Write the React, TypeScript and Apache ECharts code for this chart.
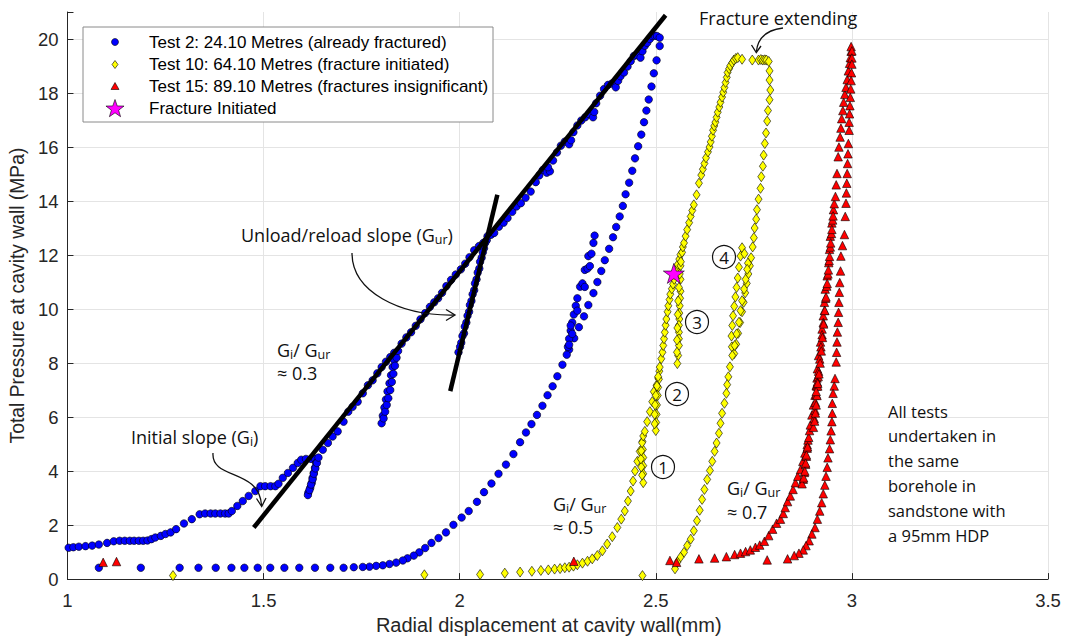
import React, { useEffect, useRef } from "react";
import * as echarts from "echarts";

// ---------- data ----------
const test2: number[][] = [
  [1.003, 1.16], [1.015, 1.18], [1.029, 1.2], [1.046, 1.22], [1.063, 1.24], [1.08, 1.28], [1.101, 1.34], [1.118, 1.4],
  [1.133, 1.42], [1.146, 1.42], [1.159, 1.42], [1.17, 1.42], [1.182, 1.42], [1.193, 1.42], [1.204, 1.43], [1.214, 1.48],
  [1.224, 1.54], [1.238, 1.6], [1.25, 1.67], [1.263, 1.73], [1.277, 1.85], [1.297, 2.06], [1.317, 2.22], [1.337, 2.4],
  [1.351, 2.43], [1.365, 2.43], [1.377, 2.43], [1.39, 2.43], [1.402, 2.43], [1.411, 2.43], [1.419, 2.52], [1.433, 2.71],
  [1.447, 2.89], [1.462, 3.08], [1.479, 3.26], [1.492, 3.44], [1.504, 3.44], [1.518, 3.44], [1.53, 3.44], [1.538, 3.53],
  [1.549, 3.75], [1.562, 3.93], [1.575, 4.12], [1.587, 4.3], [1.596, 4.42], [1.608, 4.45], [1.621, 4.45], [1.631, 4.46],
  [1.634, 4.3], [1.631, 4.12], [1.628, 3.93], [1.625, 3.75], [1.623, 3.57], [1.619, 3.38], [1.614, 3.2], [1.613, 3.11],
  [1.617, 3.3], [1.621, 3.5], [1.625, 3.7], [1.628, 3.9], [1.632, 4.1], [1.636, 4.3], [1.64, 4.5],
  [1.651, 4.79], [1.664, 5.04], [1.676, 5.28], [1.689, 5.47], [1.704, 5.83], [1.716, 6.2], [1.727, 6.38], [1.74, 6.57],
  [1.753, 6.88], [1.766, 7.18], [1.778, 7.36], [1.79, 7.62], [1.801, 7.85], [1.812, 8.05], [1.823, 8.22], [1.833, 8.38],
  [1.833, 8.1], [1.829, 7.85], [1.825, 7.55], [1.821, 7.25], [1.816, 6.95], [1.812, 6.65], [1.808, 6.35], [1.804, 6.05],
  [1.801, 5.77], [1.806, 5.95], [1.81, 6.2], [1.814, 6.45], [1.818, 6.7], [1.823, 7.0], [1.827, 7.3], [1.831, 7.6],
  [1.835, 7.9], [1.839, 8.2], [1.843, 8.45],
  [1.852, 8.72], [1.864, 8.95], [1.876, 9.14], [1.888, 9.38], [1.9, 9.62], [1.912, 9.85], [1.924, 10.08], [1.935, 10.25],
  [1.945, 10.4], [1.955, 10.6], [1.966, 10.85], [1.978, 11.08], [1.99, 11.28], [2.003, 11.47], [2.014, 11.68], [2.025, 11.92],
  [2.037, 12.18], [2.049, 12.33], [2.06, 12.45], [2.069, 12.55],
  [2.062, 12.25], [2.056, 11.9], [2.05, 11.5], [2.043, 11.1], [2.037, 10.7], [2.03, 10.3], [2.024, 9.9], [2.017, 9.5],
  [2.011, 9.1], [2.004, 8.75], [1.997, 8.4], [2.001, 8.6], [2.007, 9.0], [2.013, 9.35], [2.02, 9.75], [2.026, 10.15],
  [2.033, 10.55], [2.039, 10.95], [2.046, 11.35], [2.052, 11.75], [2.059, 12.1], [2.065, 12.45], [2.071, 12.7],
  [2.08, 12.75], [2.088, 12.82], [2.1, 13.05], [2.112, 13.2], [2.122, 13.37], [2.134, 13.6], [2.145, 13.8], [2.156, 13.92],
  [2.168, 14.12], [2.181, 14.35], [2.194, 14.7], [2.203, 14.95], [2.212, 15.15], [2.222, 15.05], [2.23, 15.1], [2.225, 15.25],
  [2.238, 15.5], [2.248, 15.8], [2.258, 16.05], [2.268, 16.2], [2.279, 16.1], [2.284, 16.25], [2.29, 16.55], [2.3, 16.8],
  [2.31, 16.98], [2.32, 17.1], [2.33, 17.22], [2.34, 17.1], [2.343, 17.3], [2.348, 17.62], [2.358, 17.9], [2.368, 18.15],
  [2.378, 18.3], [2.388, 18.35], [2.398, 18.21], [2.404, 18.45], [2.41, 18.62], [2.419, 18.76], [2.428, 18.98], [2.436, 19.18],
  [2.444, 19.37], [2.452, 19.4], [2.461, 19.31], [2.466, 19.55], [2.472, 19.75], [2.478, 19.86], [2.485, 20.0], [2.491, 20.11],
  [2.497, 20.12], [2.503, 20.11], [2.51, 20.05],
  [2.51, 19.74], [2.502, 19.21], [2.495, 18.73], [2.489, 18.24], [2.482, 17.76], [2.476, 17.35], [2.47, 16.92], [2.463, 16.46],
  [2.455, 16.03], [2.447, 15.58], [2.44, 15.12], [2.432, 14.68], [2.423, 14.25], [2.416, 13.82], [2.408, 13.43], [2.399, 13.04],
  [2.391, 12.66], [2.381, 12.23], [2.37, 11.81], [2.361, 11.41], [2.351, 11.0], [2.341, 10.59], [2.328, 10.15], [2.317, 9.73],
  [2.304, 9.33], [2.292, 8.92], [2.279, 8.5],
  [2.273, 8.31], [2.276, 8.6], [2.279, 8.9], [2.283, 9.2], [2.287, 9.5], [2.291, 9.8], [2.296, 10.12], [2.3, 10.4],
  [2.307, 10.83], [2.313, 10.95], [2.319, 11.45], [2.326, 11.5], [2.328, 11.96], [2.336, 12.05], [2.341, 12.45], [2.344, 12.72],
  [2.283, 9.39], [2.287, 9.08], [2.279, 8.68], [2.3, 9.94], [2.319, 10.82], [2.332, 11.59],
  [2.262, 7.94], [2.249, 7.51], [2.237, 7.14], [2.224, 6.81], [2.211, 6.42], [2.197, 6.08], [2.183, 5.74], [2.169, 5.43],
  [2.154, 5.07], [2.137, 4.63], [2.118, 4.24], [2.099, 3.9], [2.081, 3.54], [2.062, 3.22], [2.044, 2.86], [2.023, 2.52],
  [2.005, 2.28], [1.984, 2.01], [1.965, 1.73], [1.946, 1.52], [1.928, 1.34], [1.912, 1.15], [1.897, 0.99], [1.883, 0.87],
  [1.867, 0.77], [1.855, 0.69], [1.838, 0.61], [1.821, 0.56], [1.804, 0.51], [1.787, 0.49], [1.77, 0.46], [1.753, 0.45],
  [1.73, 0.44], [1.704, 0.42], [1.67, 0.42], [1.631, 0.42], [1.591, 0.42], [1.553, 0.42], [1.517, 0.42], [1.485, 0.42],
  [1.451, 0.42], [1.418, 0.42], [1.378, 0.42], [1.334, 0.42], [1.286, 0.42], [1.187, 0.42], [1.08, 0.42],
];

const test10: number[][] = [
  [1.269, 0.13], [1.91, 0.16], [2.052, 0.17], [2.115, 0.22], [2.154, 0.26], [2.184, 0.29], [2.207, 0.32], [2.226, 0.34],
  [2.242, 0.37], [2.256, 0.39], [2.268, 0.42], [2.279, 0.44], [2.29, 0.48], [2.3, 0.53], [2.313, 0.59], [2.326, 0.66],
  [2.338, 0.75], [2.351, 0.87], [2.364, 1.05], [2.376, 1.3], [2.389, 1.57], [2.402, 1.91], [2.412, 2.22], [2.421, 2.52],
  [2.429, 2.89], [2.436, 3.26], [2.442, 3.63], [2.447, 4.0], [2.453, 4.36], [2.459, 4.73], [2.466, 5.1],
  [2.467, 4.8], [2.468, 4.5], [2.468, 4.2], [2.468, 3.9], [2.468, 3.57], [2.465, 3.85], [2.463, 4.15], [2.462, 4.45],
  [2.463, 4.75], [2.465, 5.05], [2.468, 5.3],
  [2.472, 5.47], [2.478, 5.83], [2.485, 6.2], [2.491, 6.57], [2.495, 6.94], [2.502, 7.18], [2.506, 7.45], [2.509, 7.7],
  [2.508, 7.4], [2.506, 7.1], [2.505, 6.8], [2.503, 6.45], [2.502, 6.1], [2.501, 5.8], [2.5, 5.5], [2.497, 5.75],
  [2.497, 6.1], [2.498, 6.45], [2.5, 6.8], [2.503, 7.15], [2.506, 7.5], [2.51, 7.85],
  [2.514, 8.16], [2.517, 8.4], [2.519, 8.65], [2.521, 8.9], [2.523, 9.14], [2.525, 9.4], [2.527, 9.63], [2.53, 9.9],
  [2.532, 10.12], [2.535, 10.35], [2.537, 10.55], [2.541, 10.75], [2.544, 10.92], [2.547, 11.1], [2.55, 11.29], [2.553, 11.45],
  [2.556, 11.65], [2.56, 11.85], [2.563, 12.02],
  [2.563, 11.6], [2.563, 11.1], [2.563, 10.66], [2.562, 10.4], [2.561, 10.12], [2.56, 9.85], [2.56, 9.63], [2.559, 9.4],
  [2.559, 9.14], [2.559, 8.9], [2.559, 8.65], [2.557, 8.28], [2.555, 7.98], [2.554, 8.4], [2.554, 8.85], [2.555, 9.3],
  [2.556, 9.8], [2.557, 10.3], [2.559, 10.8], [2.561, 11.3], [2.564, 11.75], [2.567, 12.1],
  [2.569, 12.3], [2.572, 12.45], [2.576, 12.7], [2.58, 12.94], [2.585, 13.2], [2.589, 13.43], [2.593, 13.65], [2.597, 13.86],
  [2.604, 14.23], [2.61, 14.66], [2.616, 14.96], [2.62, 15.18], [2.624, 15.39], [2.628, 15.6], [2.633, 15.82], [2.637, 16.0],
  [2.64, 16.19], [2.643, 16.4], [2.646, 16.62], [2.649, 16.78], [2.652, 16.92], [2.655, 17.1], [2.658, 17.29], [2.662, 17.48],
  [2.665, 17.66], [2.669, 17.85], [2.672, 18.03], [2.675, 18.2], [2.678, 18.39], [2.681, 18.58], [2.683, 18.76], [2.687, 18.9],
  [2.69, 19.01], [2.695, 19.12], [2.699, 19.22], [2.704, 19.28], [2.709, 19.31], [2.72, 19.25], [2.746, 19.22], [2.762, 19.22],
  [2.768, 19.24], [2.773, 19.22], [2.778, 19.23], [2.782, 19.22], [2.788, 19.17],
  [2.79, 18.82], [2.79, 18.48], [2.792, 18.11], [2.79, 17.75], [2.786, 17.35], [2.784, 16.96], [2.781, 16.52], [2.778, 16.13],
  [2.775, 15.7], [2.773, 15.29], [2.769, 14.9], [2.767, 14.47], [2.762, 14.07], [2.758, 13.68], [2.756, 13.33], [2.752, 13.0],
  [2.75, 12.64], [2.747, 12.3], [2.743, 11.9],
  [2.74, 11.6], [2.736, 11.3], [2.732, 10.95], [2.728, 10.6], [2.724, 10.25], [2.72, 9.9], [2.715, 9.5], [2.71, 9.1],
  [2.705, 8.7], [2.7, 8.35], [2.694, 8.6], [2.693, 9.0], [2.695, 9.39], [2.697, 9.75], [2.7, 10.1], [2.703, 10.45],
  [2.706, 10.8], [2.709, 11.15], [2.712, 11.55], [2.716, 11.96], [2.72, 12.27], [2.726, 12.05], [2.735, 11.7],
  [2.733, 11.47], [2.729, 11.1], [2.725, 10.74], [2.72, 10.31], [2.716, 9.94], [2.712, 9.51], [2.706, 9.08], [2.701, 8.65],
  [2.695, 8.28], [2.689, 7.86], [2.685, 7.49], [2.682, 7.2], [2.68, 6.88], [2.675, 6.51], [2.669, 6.14], [2.665, 5.77],
  [2.661, 5.4], [2.655, 5.04], [2.65, 4.73], [2.644, 4.36], [2.638, 4.02], [2.631, 3.69], [2.624, 3.32], [2.618, 2.95],
  [2.612, 2.55], [2.605, 2.16], [2.597, 1.79], [2.589, 1.48], [2.58, 1.24], [2.572, 0.99], [2.563, 0.81], [2.555, 0.63],
  [2.549, 0.38], [2.466, 0.13],
];

const test15: number[][] = [
  [1.091, 0.62], [1.125, 0.65], [2.291, 0.66], [2.536, 0.69], [2.553, 0.62],
  [2.61, 0.75], [2.65, 0.78], [2.68, 0.83], [2.701, 0.91], [2.716, 0.96], [2.729, 1.02], [2.741, 1.08], [2.754, 1.18],
  [2.765, 1.26], [2.777, 1.4], [2.788, 1.61], [2.798, 1.85], [2.808, 2.07], [2.818, 2.22], [2.825, 2.43], [2.83, 2.65],
  [2.836, 2.87], [2.843, 3.08], [2.85, 3.32], [2.856, 3.57], [2.862, 3.81], [2.869, 4.06], [2.875, 4.36], [2.88, 4.67],
  [2.886, 4.98], [2.888, 5.15],
  [2.886, 4.85], [2.884, 4.55], [2.882, 4.25], [2.879, 3.95], [2.876, 3.7], [2.873, 3.53], [2.877, 3.75], [2.88, 4.0],
  [2.882, 4.3], [2.884, 4.6], [2.887, 4.9], [2.89, 5.25],
  [2.892, 5.5], [2.894, 5.71], [2.898, 6.08], [2.902, 6.45], [2.906, 6.81], [2.909, 7.18], [2.911, 7.45],
  [2.91, 7.15], [2.909, 6.85], [2.907, 6.55], [2.906, 6.25], [2.904, 5.95], [2.902, 5.62], [2.905, 5.85], [2.907, 6.15],
  [2.909, 6.45], [2.911, 6.8], [2.913, 7.15], [2.914, 7.5],
  [2.912, 7.79], [2.915, 8.28], [2.92, 8.78], [2.924, 9.26], [2.927, 9.75], [2.93, 10.25], [2.932, 10.74], [2.937, 11.23],
  [2.941, 11.72], [2.943, 12.21], [2.945, 12.7], [2.949, 13.19], [2.953, 13.68],
  [2.951, 13.3], [2.948, 12.8], [2.945, 12.3], [2.942, 11.8], [2.939, 11.3], [2.936, 10.85], [2.933, 10.4], [2.93, 9.95],
  [2.927, 9.5], [2.924, 9.05], [2.921, 8.6], [2.918, 8.15], [2.915, 7.7], [2.912, 7.3], [2.909, 6.95], [2.913, 7.25],
  [2.916, 7.6], [2.919, 8.0], [2.922, 8.45], [2.925, 8.95], [2.928, 9.45], [2.931, 9.95], [2.934, 10.45], [2.937, 10.95],
  [2.94, 11.45], [2.943, 11.95], [2.946, 12.45], [2.949, 12.95], [2.952, 13.45], [2.955, 13.9],
  [2.958, 14.17], [2.96, 14.6], [2.962, 15.02], [2.965, 15.64], [2.967, 16.0], [2.97, 16.37], [2.972, 16.7], [2.974, 17.05],
  [2.977, 17.35], [2.979, 17.66], [2.982, 17.95], [2.985, 18.21], [2.988, 18.5], [2.991, 18.82], [2.994, 19.1], [2.996, 19.31],
  [2.998, 19.55], [2.998, 19.72],
  [3.0, 19.56], [3.0, 19.3], [3.0, 19.07], [2.999, 18.75], [2.998, 18.46], [2.997, 18.15], [2.996, 17.84], [2.995, 17.53],
  [2.994, 17.23], [2.993, 16.92], [2.993, 16.62], [2.991, 16.13], [2.99, 15.75], [2.989, 15.39], [2.988, 15.02], [2.987, 14.66],
  [2.986, 14.3], [2.985, 13.92], [2.983, 13.43], [2.981, 12.76], [2.976, 12.35], [2.972, 11.96], [2.971, 11.41], [2.969, 10.98],
  [2.968, 10.62], [2.967, 10.25], [2.966, 9.88], [2.965, 9.51], [2.963, 9.15], [2.962, 8.78], [2.961, 8.4], [2.96, 8.04],
  [2.957, 7.43], [2.955, 7.15], [2.952, 6.88], [2.95, 6.51], [2.95, 6.14], [2.949, 5.83], [2.947, 5.49], [2.945, 5.16],
  [2.943, 4.83], [2.939, 4.49], [2.937, 4.14], [2.934, 3.81], [2.931, 3.48], [2.927, 3.16], [2.923, 2.83], [2.918, 2.52],
  [2.912, 2.22], [2.906, 1.91], [2.898, 1.67], [2.891, 1.42], [2.883, 1.24], [2.876, 1.08], [2.865, 0.96], [2.853, 0.87],
  [2.836, 0.75], [2.784, 0.71],
];

const fractureInitiated: number[][] = [[2.546, 11.32]];
const initialSlopeLine: number[][] = [[1.475, 1.91], [2.525, 20.88]];
const unloadSlopeLine: number[][] = [[1.976, 6.96], [2.096, 14.23]];

const legendLabels: string[] = [
  "Test 2: 24.10 Metres (already fractured)",
  "Test 10: 64.10 Metres (fracture initiated)",
  "Test 15: 89.10 Metres (fractures insignificant)",
  "Fracture Initiated",
];
const xAxisName = "Radial displacement at cavity wall(mm)";
const yAxisName = "Total Pressure at cavity wall (MPa)";
const noteLines: string[] = ["All tests", "undertaken in", "the same", "borehole in", "sandstone with", "a 95mm HDP"];
const cycleLabels: string[] = ["1", "2", "3", "4"];
const ratioLabels: string[] = ["≈ 0.3", "≈ 0.5", "≈ 0.7"];

const STAR_PATH =
  "path://M50,0L61.2,34.5L97.6,34.5L68.2,55.9L79.4,90.5L50,69.1L20.6,90.5L31.8,55.9L2.4,34.5L38.8,34.5Z";

function starPolygon(cx: number, cy: number, ro: number, ri: number): number[][] {
  const pts: number[][] = [];
  for (let i = 0; i < 10; i++) {
    const r = i % 2 === 0 ? ro : ri;
    const a = -Math.PI / 2 + (i * Math.PI) / 5;
    pts.push([cx + r * Math.cos(a), cy + r * Math.sin(a)]);
  }
  return pts;
}

export default function App() {
  const ref = useRef<HTMLDivElement>(null);

  useEffect(() => {
    document.body.style.margin = "0";
    if (!ref.current) return;
    const chart = echarts.init(ref.current, null, { renderer: "svg" });

    const axisFont = "'Liberation Sans', Arial, sans-serif";
    const annoFont = "'Open Sans', sans-serif";
    const axisColor = "#262626";
    const makeRich = (lh: number) => ({
      n: { fontSize: 18, fontFamily: annoFont, lineHeight: lh, color: "#111" },
      s: { fontSize: 12.5, fontFamily: annoFont, lineHeight: lh, padding: [8, 0, 0, 0], color: "#111" },
    });
    const richText = (x: number, y: number, text: string, lh = 19) => ({
      type: "text",
      x,
      y,
      z: 100,
      style: { text, rich: makeRich(lh), verticalAlign: "middle", align: "left", fill: "#111" },
    });
    // two-line ratio annotation: y is centre of first line
    const ratioText = (x: number, y: number, lh: number, ratio: string) => ({
      type: "text",
      x,
      y: y - lh / 2,
      z: 100,
      style: {
        text: "{n|G}{s|i}{n|/ G}{s|ur}\n{n|" + ratio + "}",
        rich: makeRich(lh),
        verticalAlign: "top",
        align: "left",
        fill: "#111",
      },
    });
    const arrowHead = (pts: number[][]) => ({
      type: "polyline",
      z: 100,
      shape: { points: pts },
      style: { stroke: "#111", lineWidth: 1.3, fill: "none" },
    });
    const curve = (s: number[]) => ({
      type: "bezierCurve",
      z: 100,
      shape: { x1: s[0], y1: s[1], cpx1: s[2], cpy1: s[3], cpx2: s[4], cpy2: s[5], x2: s[6], y2: s[7] },
      style: { stroke: "#111", lineWidth: 1.3, fill: "none" },
    });

    const circlePos = [
      [663, 467],
      [677, 394],
      [697, 322],
      [724, 257],
    ];
    const circleEls: any[] = [];
    circlePos.forEach((p, i) => {
      circleEls.push({
        type: "circle",
        z: 100,
        shape: { cx: p[0], cy: p[1], r: 11.5 },
        style: { stroke: "#111", lineWidth: 1.2, fill: "none" },
      });
      circleEls.push({
        type: "text",
        z: 100,
        x: p[0],
        y: p[1] + 0.5,
        style: {
          text: cycleLabels[i],
          fontSize: 17,
          fontFamily: annoFont,
          fill: "#111",
          align: "center",
          verticalAlign: "middle",
        },
      });
    });

    const legendX = 115;
    const legendTextX = 149;
    const legendRows = [42, 64.5, 86.5, 108.5];
    const legendEls: any[] = [
      {
        type: "rect",
        z: 90,
        shape: { x: 83, y: 27, width: 410, height: 95 },
        style: { fill: "#fff", stroke: "#8a8a8a", lineWidth: 1 },
      },
      {
        type: "circle",
        z: 91,
        shape: { cx: legendX, cy: legendRows[0], r: 3.5 },
        style: { fill: "#0000ff", stroke: "#000", lineWidth: 0.6 },
      },
      {
        type: "polygon",
        z: 91,
        shape: {
          points: [
            [legendX, legendRows[1] - 4],
            [legendX + 3, legendRows[1]],
            [legendX, legendRows[1] + 4],
            [legendX - 3, legendRows[1]],
          ],
        },
        style: { fill: "#ffff00", stroke: "#000", lineWidth: 0.6 },
      },
      {
        type: "polygon",
        z: 91,
        shape: {
          points: [
            [legendX, legendRows[2] - 4],
            [legendX + 4, legendRows[2] + 3],
            [legendX - 4, legendRows[2] + 3],
          ],
        },
        style: { fill: "#ff0000", stroke: "#000", lineWidth: 0.6 },
      },
      {
        type: "polygon",
        z: 91,
        shape: { points: starPolygon(legendX, legendRows[3] + 0.5, 9.5, 3.8) },
        style: { fill: "#ff00ff", stroke: "#000", lineWidth: 0.6 },
      },
    ];
    legendLabels.forEach((t, i) => {
      legendEls.push({
        type: "text",
        z: 91,
        x: legendTextX,
        y: legendRows[i],
        style: {
          text: t,
          fontSize: 17,
          fontFamily: axisFont,
          fill: "#000",
          align: "left",
          verticalAlign: "middle",
        },
      });
    });

    const noteEls = noteLines.map((t, i) => ({
      type: "text",
      z: 100,
      x: 888,
      y: 411 + i * 24.8,
      style: {
        text: t,
        fontSize: 16.5,
        fontFamily: annoFont,
        fill: "#111",
        align: "left",
        verticalAlign: "middle",
      },
    }));

    const option: any = {
      animation: false,
      backgroundColor: "#fff",
      grid: { left: 66, right: 17, top: 12, bottom: 58, containLabel: false },
      xAxis: {
        type: "value",
        min: 1,
        max: 3.5,
        interval: 0.5,
        name: xAxisName,
        nameLocation: "middle",
        nameGap: 34,
        nameTextStyle: { fontSize: 20, fontFamily: axisFont, color: axisColor, padding: [0, 18, 0, 0] },
        axisLine: { show: true, onZero: false, lineStyle: { color: axisColor, width: 1 } },
        axisTick: { show: true, inside: true, length: 6, lineStyle: { color: axisColor } },
        axisLabel: { fontSize: 18.5, fontFamily: axisFont, color: axisColor, margin: 12 },
        splitLine: { show: true, lineStyle: { color: "#e4e4e4", width: 1 } },
      },
      yAxis: {
        type: "value",
        min: 0,
        max: 21,
        interval: 2,
        name: yAxisName,
        nameLocation: "middle",
        nameGap: 33,
        nameTextStyle: { fontSize: 19.3, fontFamily: axisFont, color: axisColor },
        axisLine: { show: true, onZero: false, lineStyle: { color: axisColor, width: 1 } },
        axisTick: { show: true, inside: true, length: 6, lineStyle: { color: axisColor } },
        axisLabel: {
          fontSize: 18.5,
          fontFamily: axisFont,
          color: axisColor,
          margin: 9,
          formatter: (v: number) => (v > 20 ? "" : String(v)),
        },
        splitLine: { show: true, showMaxLine: false, lineStyle: { color: "#e4e4e4", width: 1 } },
      },
      series: [
        {
          name: legendLabels[0],
          type: "scatter",
          data: test2,
          symbol: "circle",
          symbolSize: 7.5,
          itemStyle: { color: "#0000ff", borderColor: "#000", borderWidth: 0.6, opacity: 1 },
          z: 2,
        },
        {
          name: legendLabels[1],
          type: "scatter",
          data: test10,
          symbol: "diamond",
          symbolSize: [7, 10],
          itemStyle: { color: "#ffff00", borderColor: "#000", borderWidth: 0.6, opacity: 1 },
          z: 3,
        },
        {
          name: legendLabels[2],
          type: "scatter",
          data: test15,
          symbol: "triangle",
          symbolSize: 8.5,
          itemStyle: { color: "#ff0000", borderColor: "#000", borderWidth: 0.6, opacity: 1 },
          z: 4,
        },
        {
          name: legendLabels[3],
          type: "scatter",
          data: fractureInitiated,
          symbol: STAR_PATH,
          symbolKeepAspect: true,
          symbolSize: 21,
          itemStyle: { color: "#ff00ff", borderColor: "#000", borderWidth: 0.6, opacity: 1 },
          z: 6,
        },
        {
          name: "Initial slope",
          type: "line",
          data: initialSlopeLine,
          symbol: "none",
          lineStyle: { color: "#000", width: 4.5 },
          z: 5,
          silent: true,
        },
        {
          name: "Unload/reload slope",
          type: "line",
          data: unloadSlopeLine,
          symbol: "none",
          lineStyle: { color: "#000", width: 4.5 },
          z: 5,
          silent: true,
        },
      ],
      graphic: [
        ...legendEls,
        {
          type: "text",
          z: 100,
          x: 699,
          y: 18,
          style: {
            text: "Fracture extending",
            fontSize: 18,
            fontFamily: annoFont,
            fill: "#111",
            align: "left",
            verticalAlign: "middle",
          },
        },
        curve([783, 28, 766, 30, 758, 38, 756.5, 51]),
        arrowHead([[751.5, 45], [756.3, 52.5], [761, 46]]),
        richText(241, 235, "{n|Unload/reload slope (G}{s|ur}{n|)}"),
        curve([352, 253, 352, 292, 400, 316, 454, 315]),
        arrowHead([[446, 309.5], [455, 315], [446, 320.5]]),
        richText(131, 437, "{n|Initial slope (G}{s|i}{n|)}"),
        curve([213, 453, 211, 480, 259, 468, 261.5, 505]),
        arrowHead([[256.5, 498.5], [261.7, 506.5], [266, 498]]),
        ratioText(277, 350, 23, ratioLabels[0]),
        ratioText(553, 504, 22.5, ratioLabels[1]),
        ratioText(727, 488, 24, ratioLabels[2]),
        ...circleEls,
        ...noteEls,
      ],
    };

    chart.setOption(option);
    return () => chart.dispose();
  }, []);

  return <div ref={ref} style={{ width: 1065, height: 640 }} />;
}
